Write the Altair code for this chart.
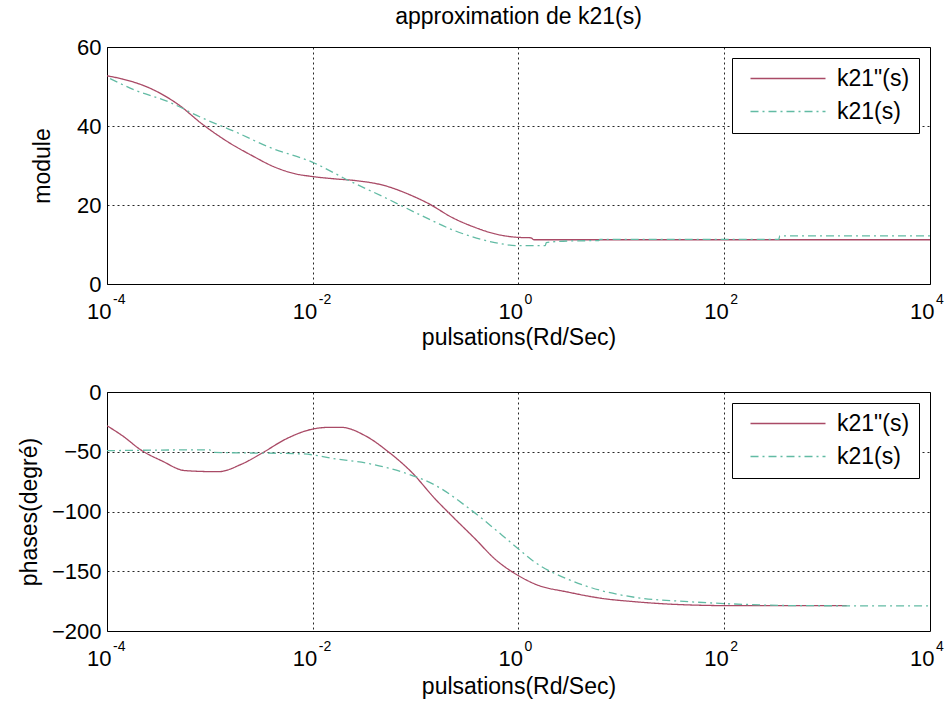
import altair as alt
import pandas as pd

# Series names (legend order)
NAMES = ['k21"(s)', "k21(s)"]
RED = "#a94a66"
GREEN = "#62bba4"
FONT = "Liberation Sans, Arial, Helvetica, sans-serif"

# ---- module (magnitude) : log10 of pulsation, value ----
mod_approx_exp = [-4.0, -3.85, -3.56, -3.30, -3.08, -2.82, -2.59, -2.37, -2.17, -2.0,
                  -1.78, -1.59, -1.30, -1.04, -0.87, -0.65, -0.42, -0.23, 0.0, 0.12,
                  0.15, 4.0]
mod_approx_val = [52.7, 51.9, 49.3, 45.3, 40.6, 35.9, 32.5, 29.6, 27.9, 27.2,
                  26.6, 26.2, 24.9, 22.4, 20.3, 16.9, 14.3, 12.7, 11.8, 11.7,
                  11.2, 11.2]

mod_exact_exp = [-3.97, -3.73, -3.40, -3.08, -2.75, -2.43, -2.0, -1.65, -1.30, -0.94,
                 -0.62, -0.23, 0.0, 0.26, 0.27, 0.5, 0.78, 0.79, 2.53, 2.54, 4.0]
mod_exact_val = [52.0, 49.1, 46.1, 42.1, 38.5, 34.7, 30.8, 26.2, 21.9, 17.3,
                 13.5, 10.5, 9.7, 9.7, 10.5, 10.9, 11.0, 11.3, 11.3, 12.2, 12.2]

# ---- phases (degrees) ----
ph_approx_exp = [-4.0, -3.85, -3.66, -3.47, -3.24, -2.92, -2.69, -2.49, -2.26, -2.0,
                 -1.84, -1.72, -1.49, -1.26, -1.04, -0.81, -0.65, -0.42, -0.23, 0.0,
                 0.16, 0.49, 0.81, 1.13, 1.66, 2.1, 3.19]
ph_approx_val = [-28.2, -36.6, -49.1, -57.5, -65.8, -66.7, -60.3, -51.0, -39.3, -31.0,
                 -29.6, -29.6, -36.6, -50.4, -67.0, -89.5, -103.5, -123.0, -139.7, -153.7,
                 -160.7, -167.6, -172.7, -175.5, -178.2, -178.8, -178.8]

ph_exact_exp = [-4.0, -3.0, -2.98, -2.1, -1.78, -1.45, -1.13, -0.81, -0.48, -0.16,
                0.0, 0.16, 0.49, 0.81, 1.13, 1.66, 2.1, 2.75, 4.0]
ph_exact_val = [-49.1, -48.4, -50.4, -51.8, -55.9, -60.0, -67.0, -78.0, -97.5, -119.8,
                -131.4, -142.5, -157.0, -166.3, -171.8, -175.5, -177.4, -178.8, -179.0]

# x ticks (decades) and their exponents, written as superscripts
X_TICKS = [1e-4, 1e-2, 1, 1e2, 1e4]
X_EXPONENTS = ["-4", "-2", "0", "2", "4"]

PLOT_W = 823


def frame(approx_exp, approx_val, exact_exp, exact_val):
    rows = []
    for e, v in zip(approx_exp, approx_val):
        rows.append({"w": 10 ** e, "value": v, "series": NAMES[0]})
    for e, v in zip(exact_exp, exact_val):
        rows.append({"w": 10 ** e, "value": v, "series": NAMES[1]})
    return pd.DataFrame(rows)


ticks_df = pd.DataFrame({"w": X_TICKS, "exp": X_EXPONENTS})

legend = alt.Legend(
    title=None,
    orient="top-right",
    offset=11,
    fillColor="white",
    strokeColor="black",
    padding=9,
    labelFont=FONT,
    labelFontSize=23,
    labelColor="black",
    labelOffset=73,
    symbolType="M-0.2,0H7.3",
    symbolSize=400,
    symbolStrokeWidth=1.3,
    rowPadding=9,
)

x_scale = alt.Scale(type="log", domain=[1e-4, 1e4], nice=False)


def panel(df, ytitle, ydomain, yticks, height, ytitle_pad, xtitle_pad, title=None):
    lines = (
        alt.Chart(df)
        .mark_line(strokeWidth=1.3, clip=True, interpolate="monotone")
        .encode(
            x=alt.X(
                "w:Q",
                scale=x_scale,
                axis=alt.Axis(values=X_TICKS, labelExpr="'10'", labelAlign="right",
                              labelOffset=4, labelFlush=False, labelPadding=17,
                              title="pulsations(Rd/Sec)", titlePadding=xtitle_pad),
            ),
            y=alt.Y(
                "value:Q",
                scale=alt.Scale(domain=ydomain, nice=False, zero=False),
                axis=alt.Axis(values=yticks, title=ytitle, titlePadding=ytitle_pad),
            ),
            color=alt.Color("series:N",
                            scale=alt.Scale(domain=NAMES, range=[RED, GREEN]),
                            sort=NAMES, legend=legend),
            strokeDash=alt.StrokeDash("series:N",
                                      scale=alt.Scale(domain=NAMES, range=[[1, 0], [8, 4, 2, 4]]),
                                      sort=NAMES, legend=legend),
        )
    )
    # exponents of the decade labels
    exps = (
        alt.Chart(ticks_df)
        .mark_text(align="left", baseline="alphabetic", dx=6, fontSize=14,
                   font=FONT, color="black")
        .encode(x=alt.X("w:Q", scale=x_scale), y=alt.value(height + 20),
                text="exp:N")
    )
    props = dict(width=PLOT_W, height=height)
    if title is not None:
        props["title"] = alt.TitleParams(
            title, font=FONT, fontSize=23, fontWeight="normal", color="black",
            anchor="middle", offset=7,
        )
    return alt.layer(lines, exps).properties(**props)


top = panel(frame(mod_approx_exp, mod_approx_val, mod_exact_exp, mod_exact_val),
            "module", [0, 60], [0, 20, 40, 60], 237, 22, 4,
            title="approximation de k21(s)")
bottom = panel(frame(ph_approx_exp, ph_approx_val, ph_exact_exp, ph_exact_val),
               "phases(degré)", [-200, 0], [-200, -150, -100, -50, 0], 239, 10, 6)

chart = (
    alt.vconcat(top, bottom, spacing=30)
    .resolve_scale(color="independent", strokeDash="independent")
    .resolve_legend(color="independent", strokeDash="independent")
    .configure(font=FONT, padding={"left": 17, "top": 5, "right": 5, "bottom": 5})
    .configure_view(stroke="black", strokeWidth=1)
    .configure_axis(
        labelFont=FONT, titleFont=FONT, labelFontSize=22, titleFontSize=23,
        labelColor="black", titleColor="black", titleFontWeight="normal",
        ticks=False, domain=False, grid=True, gridColor="black",
        gridDash=[2, 3], gridWidth=1, gridOpacity=0.85, labelPadding=6,
    )
)

chart.save("out.html", embed_options={"renderer": "svg", "actions": False})
